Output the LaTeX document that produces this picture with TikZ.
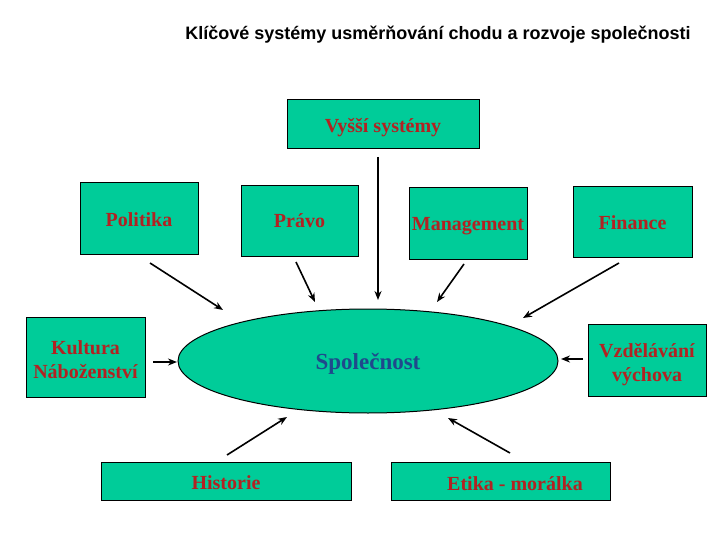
\documentclass[tikz,border=0pt]{standalone}
\usepackage{fontspec}
\setmainfont{Liberation Serif}
\newfontfamily\arialfont{Liberation Sans}
\usetikzlibrary{arrows.meta,shapes.geometric}
\definecolor{boxgreen}{RGB}{0,204,153}
\definecolor{txtred}{RGB}{178,34,34}
\definecolor{txtblue}{RGB}{31,73,140}
\begin{document}
\begin{tikzpicture}[x=1pt,y=-1pt,
  box/.style={draw=black, line width=1pt, fill=boxgreen, inner sep=0pt},
  lbl/.style={font=\fontsize{20}{24}\selectfont\bfseries, text=txtred, align=center, inner sep=0pt},
  conn/.style={line width=1.6pt, -{Stealth[length=9pt,width=7pt]}}]
\useasboundingbox (0,0) rectangle (720,540);
\node[font=\arialfont\bfseries\fontsize{18}{22}\selectfont] (title) at (438,35)
  {Klíčové systémy usměrňování chodu a rozvoje společnosti};
\node[box, minimum width=192pt, minimum height=49pt,
  label={[lbl, yshift=-3pt]center:Vyšší systémy}] (vyssi) at (383,124.5) {};
\node[box, minimum width=118pt, minimum height=71pt,
  label={[lbl, yshift=-1pt]center:Politika}] (politika) at (139,218.5) {};
\node[box, minimum width=117pt, minimum height=70pt,
  label={[lbl, yshift=0pt]center:Právo}] (pravo) at (299.5,221) {};
\node[box, minimum width=118pt, minimum height=71pt,
  label={[lbl, yshift=-3pt]center:Management}] (management) at (468,223.5) {};
\node[box, minimum width=119pt, minimum height=70pt,
  label={[lbl, yshift=-1pt]center:Finance}] (finance) at (632.5,222) {};
\node[box, minimum width=119pt, minimum height=80pt,
  label={[lbl, yshift=-3pt]center:Kultura\\Náboženství}] (kultura) at (85.5,357) {};
\node[box, minimum width=118pt, minimum height=72pt,
  label={[lbl, yshift=-5pt]center:Vzdělávání\\výchova}] (vzdelavani) at (647,360) {};
\node[box, minimum width=250pt, minimum height=38pt,
  label={[lbl, yshift=-2pt]center:Historie}] (historie) at (226,481) {};
\node[box, minimum width=219pt, minimum height=38pt,
  label={[lbl, xshift=14.5pt, yshift=-3pt]center:Etika - morálka}] (etika) at (500.5,481) {};
\node[ellipse, draw=black, line width=1pt, fill=boxgreen, minimum width=380pt, minimum height=104pt,
  inner sep=0pt,
  label={[lbl, font=\fontsize{23}{27}\selectfont\bfseries, text=txtblue, yshift=-3pt]center:Společnost}]
  (spol) at (368,361) {};
% arrow end points
\coordinate (a1s) at (150,263); \coordinate (a1e) at (223,310);
\coordinate (a2s) at (296,262); \coordinate (a2e) at (315,302);
\coordinate (a3s) at (378,157); \coordinate (a3e) at (378,300);
\coordinate (a4s) at (464,264); \coordinate (a4e) at (437,302);
\coordinate (a5s) at (619,263); \coordinate (a5e) at (523,318);
\coordinate (a6s) at (153,362); \coordinate (a6e) at (177,362);
\coordinate (a7s) at (583,359); \coordinate (a7e) at (561,359);
\coordinate (a8s) at (227,455); \coordinate (a8e) at (287,417);
\coordinate (a9s) at (510,453); \coordinate (a9e) at (448,418);
\draw[conn] (a1s) -- (a1e);
\draw[conn] (a2s) -- (a2e);
\draw[conn] (a3s) -- (a3e);
\draw[conn] (a4s) -- (a4e);
\draw[conn] (a5s) -- (a5e);
\draw[conn] (a6s) -- (a6e);
\draw[conn] (a7s) -- (a7e);
\draw[conn] (a8s) -- (a8e);
\draw[conn] (a9s) -- (a9e);
\end{tikzpicture}
\end{document}
